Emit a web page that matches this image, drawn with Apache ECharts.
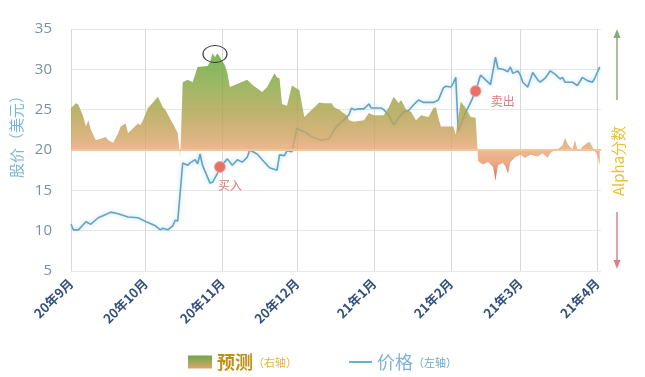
<!DOCTYPE html>
<html><head><meta charset="utf-8">
<script src="https://cdn.jsdelivr.net/npm/echarts@6/dist/echarts.min.js"></script>
<style>html,body{margin:0;padding:0;background:#fff}#c{width:645px;height:377px}</style>
</head><body><div id="c"></div>
<script>
const monthTicks = ['2020-09-01','2020-10-01','2020-11-01','2020-12-01','2021-01-01','2021-02-01','2021-03-01','2021-04-01'];
const monthLabels = ['20年9月','20年10月','20年11月','20年12月','21年1月','21年2月','21年3月','21年4月'];
const yTicks = [5,10,15,20,25,30,35];

const priceDates = ['2020-09-01','2020-09-02','2020-09-04','2020-09-07','2020-09-09','2020-09-12','2020-09-15','2020-09-17','2020-09-20','2020-09-24','2020-09-28',
'2020-10-02','2020-10-05','2020-10-07','2020-10-08','2020-10-10','2020-10-12','2020-10-13','2020-10-14','2020-10-16','2020-10-18','2020-10-19','2020-10-21','2020-10-22','2020-10-23','2020-10-24','2020-10-27','2020-10-28','2020-10-30','2020-10-31',
'2020-11-03','2020-11-05','2020-11-07','2020-11-09','2020-11-11','2020-11-12','2020-11-15','2020-11-17','2020-11-20','2020-11-23','2020-11-24','2020-11-26','2020-11-27','2020-11-29',
'2020-12-01','2020-12-02','2020-12-05','2020-12-07','2020-12-09','2020-12-11','2020-12-14','2020-12-16','2020-12-17','2020-12-19','2020-12-21','2020-12-22','2020-12-23','2020-12-24','2020-12-26','2020-12-28','2020-12-30','2020-12-31',
'2021-01-04','2021-01-05','2021-01-07','2021-01-09','2021-01-11','2021-01-13','2021-01-15','2021-01-17','2021-01-19','2021-01-21','2021-01-25','2021-01-27','2021-01-29','2021-01-30',
'2021-02-01','2021-02-02','2021-02-03','2021-02-04','2021-02-07','2021-02-09','2021-02-11','2021-02-13','2021-02-15','2021-02-17','2021-02-19','2021-02-20','2021-02-22','2021-02-24','2021-02-25','2021-02-26','2021-02-28',
'2021-03-01','2021-03-02','2021-03-04','2021-03-06','2021-03-08','2021-03-09','2021-03-11','2021-03-13','2021-03-15','2021-03-17','2021-03-18','2021-03-19','2021-03-22','2021-03-24','2021-03-26','2021-03-28','2021-03-30','2021-03-31',
'2021-04-02'];
const priceValues = [10.8,10.1,10.1,11.1,10.8,11.6,12.0,12.3,12.1,11.7,11.6,
11.0,10.6,10.1,10.3,10.1,10.6,11.3,11.2,18.4,18.1,18.4,18.8,18.3,19.5,18.1,15.9,16.0,17.1,17.9,
18.9,18.1,18.8,18.5,19.1,20.0,19.5,18.8,17.8,17.5,19.4,19.3,19.9,19.8,
22.7,22.5,22.1,21.6,21.4,21.2,21.4,22.5,22.9,23.5,24.0,24.4,25.2,25.0,25.1,25.1,25.7,25.2,
25.2,25.0,24.3,23.1,24.0,24.7,24.9,25.6,26.2,25.9,25.9,26.2,27.7,27.9,
27.8,28.3,29.0,22.3,24.7,25.9,27.3,29.3,28.7,28.1,31.5,30.1,30.0,29.7,30.3,29.5,29.8,
29.3,28.4,27.8,29.6,28.7,28.4,28.9,29.8,29.4,28.8,29.0,28.4,28.4,28.0,29.0,28.6,28.4,28.9,
30.3];

const alphaDates = ['2020-09-01','2020-09-03','2020-09-04','2020-09-06','2020-09-07','2020-09-08','2020-09-09','2020-09-11','2020-09-12','2020-09-15','2020-09-16','2020-09-18','2020-09-20','2020-09-21','2020-09-23','2020-09-24','2020-09-26','2020-09-28','2020-09-29','2020-09-30',
'2020-10-02','2020-10-04','2020-10-06','2020-10-08','2020-10-09','2020-10-12','2020-10-14','2020-10-15','2020-10-16','2020-10-18','2020-10-20','2020-10-22','2020-10-26','2020-10-27','2020-10-28','2020-10-29','2020-10-30','2020-10-31',
'2020-11-02','2020-11-03','2020-11-04','2020-11-11','2020-11-13','2020-11-17','2020-11-19','2020-11-22','2020-11-23','2020-11-24','2020-11-25','2020-11-27','2020-11-29',
'2020-12-02','2020-12-04','2020-12-07','2020-12-10','2020-12-12','2020-12-15','2020-12-16','2020-12-18','2020-12-21','2020-12-22','2020-12-24','2020-12-28','2020-12-30',
'2021-01-01','2021-01-05','2021-01-07','2021-01-09','2021-01-11','2021-01-12','2021-01-14','2021-01-16','2021-01-18','2021-01-20','2021-01-23','2021-01-25','2021-01-26','2021-01-27','2021-01-28',
'2021-02-02','2021-02-03','2021-02-05','2021-02-07','2021-02-09','2021-02-11','2021-02-12','2021-02-14','2021-02-16','2021-02-18','2021-02-19','2021-02-20','2021-02-22','2021-02-23','2021-02-24','2021-02-25','2021-02-27',
'2021-03-01','2021-03-03','2021-03-05','2021-03-08','2021-03-10','2021-03-12','2021-03-13','2021-03-14','2021-03-15','2021-03-16','2021-03-18','2021-03-19','2021-03-20','2021-03-21','2021-03-22','2021-03-23','2021-03-24','2021-03-25','2021-03-26','2021-03-28','2021-03-29','2021-03-30','2021-03-31',
'2021-04-01','2021-04-02'];
const alphaValues = [5.2,5.8,5.6,4.1,2.9,3.7,2.5,1.2,1.3,1.6,1.2,0.9,2.1,2.9,3.3,2.1,2.7,3.3,3.1,3.7,
5.2,5.9,6.6,5.3,5.0,3.3,2.1,-1.0,8.4,8.7,8.4,10.3,10.4,10.9,12.0,11.5,12.0,11.5,
10.5,9.5,7.8,8.7,8.1,7.2,7.8,9.5,9.0,8.9,5.7,5.5,8.0,
7.4,4.1,5.0,5.9,5.8,5.8,5.3,5.0,4.3,3.7,3.5,3.7,4.6,
4.3,4.3,5.3,6.6,5.8,6.2,5.0,4.7,3.7,4.3,4.1,5.2,5.3,4.0,2.9,
2.9,1.9,6.0,5.2,4.1,4.0,-1.4,-1.8,-1.5,-2.1,-3.8,-1.9,-1.6,-2.0,-2.9,-1.5,-0.9,
-0.6,-1.0,-0.6,-0.8,-0.4,-1.0,-0.4,-0.2,0.2,0.1,0.6,1.5,0.8,0.4,0.1,1.2,0.1,0.0,0.4,0.9,1.0,0.4,-0.2,
-0.6,-1.9];

const buyPoint = ['2020-10-31', 17.9];
const sellPoint = ['2021-02-11', 27.3];
const peakPoint = ['2020-10-29', 11.9];

const ts = d => +new Date(d.replace(' ', 'T') + (d.length === 10 ? 'T00:00:00' : ''));
const chart = echarts.init(document.getElementById('c'), null, {renderer:'canvas'});
const monthTs = monthTicks.map(ts);
const fontCN = "'Noto Sans CJK SC','Noto Sans',sans-serif";

const areaGrad = new echarts.graphic.LinearGradient(0, 29, 0, 271, [
  {offset:0, color:'#4c9c2e'},
  {offset:0.11, color:'#62a63a'},
  {offset:0.23, color:'#88a843'},
  {offset:0.355, color:'#b2a34f'},
  {offset:0.46, color:'#d8a468'},
  {offset:0.5, color:'#eba979'},
  {offset:0.555, color:'#e8966a'},
  {offset:0.61, color:'#d45a48'},
  {offset:1, color:'#b02c3c'}
], true);

chart.setOption({
  animation:false,
  textStyle:{fontFamily:fontCN},
  grid:{left:71, right:44, top:29, bottom:106, containLabel:false},
  legend:[
    {data:[{name:'预测', icon:'rect', itemStyle:{color:new echarts.graphic.LinearGradient(0,0,0,1,[{offset:0,color:'#6aa84a'},{offset:1,color:'#dca66c'}])}}],
     left:183, top:348, itemWidth:24, itemHeight:13, itemGap:4,
     formatter:n => '{a|' + n + '}{b|（右轴）}',
     textStyle:{rich:{a:{fontSize:18, color:'#c0901c', fontWeight:'bold', fontFamily:fontCN}, b:{fontSize:11, color:'#e8b43c', fontFamily:fontCN, padding:[2,0,0,0]}}}},
    {data:[{name:'价格', icon:'rect', itemStyle:{color:'#6aaed2'}}],
     left:344, top:348, itemWidth:23, itemHeight:2, itemGap:2,
     formatter:n => '{a|' + n + '}{b|（左轴）}',
     textStyle:{rich:{a:{fontSize:18, color:'#7eb4d4', fontFamily:fontCN}, b:{fontSize:11, color:'#6aaad4', fontFamily:fontCN, padding:[2,0,0,0]}}}}
  ],
  xAxis:{
    type:'value',
    min:ts('2020-09-01'), max:ts('2021-04-02 12:00:00'),
    axisLine:{show:true, lineStyle:{color:'#dcd2d2', width:1}},
    axisTick:{show:true, customValues:monthTs, length:7, lineStyle:{color:'#d6d6d6'}},
    splitLine:{show:true, lineStyle:{color:'#d9d9d9', width:1}},
    axisLabel:{
      customValues:monthTs, rotate:45, fontSize:13, fontWeight:'bold', color:'#34507c', margin:10,
      formatter:v => { const i = monthTs.indexOf(v); return i >= 0 ? monthLabels[i] : ''; }
    }
  },
  yAxis:[
    {type:'value', min:5, max:35, interval:5, position:'left',
     axisLine:{show:false}, axisTick:{show:false},
     axisLabel:{fontSize:15, color:'#7d8ea0', margin:19, fontFamily:"'Open Sans','Noto Sans',sans-serif",
       formatter:v => yTicks.includes(v) ? String(v) : ''},
     splitLine:{lineStyle:{color:'#e8e8e8'}}},
    {type:'value', min:-15, max:15, position:'right',
     axisLine:{show:false}, axisTick:{show:false}, axisLabel:{show:false}, splitLine:{show:false}}
  ],
  graphic:[
    {type:'text', x:16, y:133, rotation:Math.PI/2, style:{text:'股价（美元）', fill:'#7cb6d0', font:"15px 'Noto Sans CJK SC'", textAlign:'center', textVerticalAlign:'middle'}},
    {type:'text', x:618, y:161, rotation:Math.PI/2, style:{text:'Alpha分数', fill:'#e8c23a', font:"15px 'Noto Sans CJK SC'", textAlign:'center', textVerticalAlign:'middle'}},
    {type:'line', shape:{x1:617, y1:100, x2:617, y2:36}, style:{stroke:'#8aaa78', lineWidth:1.5}},
    {type:'polygon', shape:{points:[[613.5,38],[620.5,38],[617,29]]}, style:{fill:'#8aaa78'}},
    {type:'line', shape:{x1:617, y1:212, x2:617, y2:262}, style:{stroke:'#d8808e', lineWidth:1.5}},
    {type:'polygon', shape:{points:[[613.5,260],[620.5,260],[617,269]]}, style:{fill:'#d8808e'}}
  ],
  series:[
    {name:'价格', type:'line', yAxisIndex:0, z:2,
     data:priceDates.map((d,i) => [ts(d), priceValues[i]]),
     showSymbol:false, symbol:'none',
     lineStyle:{color:'#62a4c8', width:1.6, shadowBlur:4, shadowColor:'rgba(120,180,215,0.5)'},
     itemStyle:{color:'#62a4c8'},
     markPoint:{
       symbol:'circle', symbolSize:11, silent:true,
       itemStyle:{color:'#e8706a', borderColor:'#f4a8a0', borderWidth:1},
       data:[
         {coord:[ts(buyPoint[0]), buyPoint[1]], label:{show:true, formatter:'买入', position:'bottom', offset:[10,1], color:'#e07b7b', fontSize:12}},
         {coord:[ts(sellPoint[0]), sellPoint[1]], label:{show:true, formatter:'卖出', position:'right', offset:[4,10], color:'#e07b7b', fontSize:12}}
       ]
     }},
    {name:'预测', type:'line', yAxisIndex:1, z:3,
     data:alphaDates.map((d,i) => [ts(d), alphaValues[i]]),
     showSymbol:false, symbol:'none',
     lineStyle:{width:0},
     itemStyle:{color:'#b0a44c'},
     areaStyle:{color:areaGrad, opacity:0.82, origin:0},
     markLine:{silent:true, symbol:'none', label:{show:false},
       lineStyle:{color:'#f2c69c', width:2, type:'solid'},
       data:[{yAxis:0}]},
     markPoint:{silent:true, symbol:'circle', symbolSize:[24,17],
       itemStyle:{color:'rgba(0,0,0,0)', borderColor:'#333', borderWidth:1},
       label:{show:false},
       data:[{coord:[ts(peakPoint[0]), peakPoint[1]]}]}}
  ]
});
</script></body></html>
